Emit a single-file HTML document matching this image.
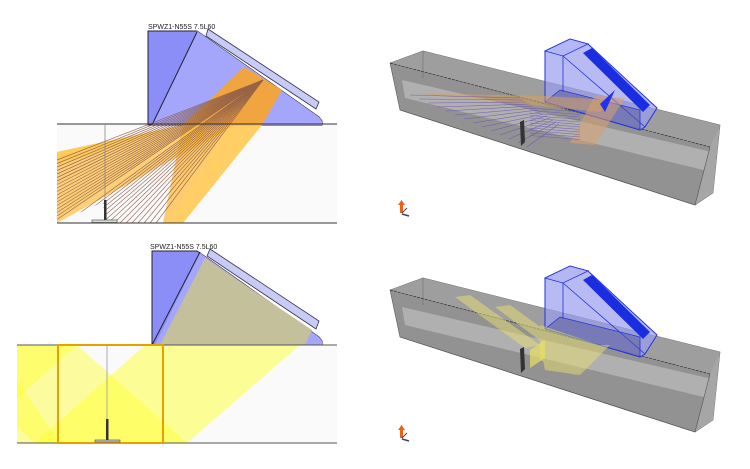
<!DOCTYPE html>
<html><head><meta charset="utf-8"><style>
html,body{margin:0;padding:0;background:#fff;}
svg{display:block;}
text{font-family:"Liberation Sans",sans-serif;}
</style></head><body>
<svg width="750" height="469" viewBox="0 0 750 469" xmlns="http://www.w3.org/2000/svg">
<!-- ===== TOP LEFT ===== -->
<rect x="57" y="124" width="280" height="99" fill="#fafafa"/>
<polygon points="148,31 197,31 203,35 319,117 322,121 322,125 148,125" fill="#8c8ef8" stroke="#223" stroke-width="1"/>
<polygon points="197,31 203,35 319,117 322,121 322,125 152,125" fill="#a4a6fb"/>
<line x1="197" y1="32" x2="152" y2="125" stroke="#223" stroke-width="1"/>
<polygon points="208,29 319,102 316,109 206,36" fill="#c8caf8" stroke="#334" stroke-width="0.8"/>
<polygon points="244,67 282,90 262,125 183,125" fill="#ffa520" opacity="0.85"/>
<polygon points="183,125 262,125 183,223 163,223" fill="#ffb830" opacity="0.7"/>
<polygon points="230,125 262,125 183,223 168,223" fill="#ffd060" opacity="0.6"/>
<polygon points="183,125 235,125 57,223 57,152" fill="#ffb830" opacity="0.65"/>
<polygon points="183,125 57,152 57,165" fill="#ffc850" opacity="0.8"/>
<g id="fan" stroke="#8a5a48" stroke-width="0.7" opacity="0.85"></g>
<polygon points="57,223 103,202 105,223" fill="#fafafa"/>
<line x1="57" y1="124" x2="337" y2="124" stroke="#333" stroke-width="1"/>
<line x1="57" y1="223" x2="337" y2="223" stroke="#333" stroke-width="1"/>
<line x1="105" y1="124" x2="105" y2="223" stroke="#888" stroke-width="0.8"/>
<rect x="104" y="200" width="2.5" height="21" fill="#333"/>
<rect x="92" y="220" width="25" height="2.5" fill="#ddd" stroke="#444" stroke-width="0.6"/>
<text x="148" y="29" font-size="7" fill="#222">SPWZ1-N55S  7.5L60</text>

<!-- ===== BOTTOM LEFT ===== -->
<rect x="17" y="345" width="320" height="98" fill="#fafafa"/>
<clipPath id="spec"><rect x="17" y="345" width="320" height="98"/></clipPath>
<g clip-path="url(#spec)" fill="#ffff30">
<polygon points="145,345 300,345 187,443 35,443" opacity="0.5"/>
<polygon points="35,443 187,443 77,345 -75,345" opacity="0.45"/>
<polygon points="-75,345 77,345 -33,443 -185,443" opacity="0.45"/>
<polygon points="17,380 60,443 17,443" opacity="0.45"/>
</g>
<polygon points="152,251 197,251 203,255 319,337 322,341 322,345 152,345" fill="#8c8ef8" stroke="#223" stroke-width="1"/>
<polygon points="200,253 203,255 319,337 322,341 322,345 155,345" fill="#a4a6fb"/>
<polygon points="205,258 312,330 305,345 160,345" fill="#c4c09c"/>
<line x1="200" y1="252" x2="152" y2="345" stroke="#223" stroke-width="1"/>
<polygon points="210,249 319,321 316,329 207,256" fill="#c8caf8" stroke="#334" stroke-width="0.8"/>
<line x1="17" y1="345" x2="337" y2="345" stroke="#555" stroke-width="1"/>
<line x1="17" y1="443" x2="337" y2="443" stroke="#555" stroke-width="1"/>
<rect x="58" y="345" width="105" height="98" fill="none" stroke="#e8a000" stroke-width="2"/>
<line x1="107" y1="345" x2="107" y2="443" stroke="#999" stroke-width="0.8"/>
<rect x="106" y="419" width="2.5" height="22" fill="#333"/>
<rect x="95" y="440" width="25" height="2" fill="#ccc" stroke="#444" stroke-width="0.6"/>
<text x="150" y="249" font-size="7" fill="#222">SPWZ1-N55S  7.5L60</text>

<!-- ===== 3D panels ===== -->
<g id="box3d">
<polygon points="390,63 423,51 720,125 713,193 695,205 400,110" fill="#929292" stroke="#555" stroke-width="0.6"/>
<polygon points="423,51 720,125 710,147 390,63" fill="#9e9e9e"/>
<polygon points="402,80 712,152 712,172 405,98" fill="#b0b0b0"/>
<polygon points="710,147 720,125 713,193 695,205" fill="#a6a6a6"/>
<line x1="390" y1="63" x2="710" y2="147" stroke="#333" stroke-width="0.7" stroke-dasharray="3,1"/>
<line x1="400" y1="110" x2="695" y2="205" stroke="#555" stroke-width="0.6"/>
<line x1="710" y1="147" x2="695" y2="205" stroke="#555" stroke-width="0.6"/>
<line x1="423" y1="51" x2="423" y2="78" stroke="#666" stroke-width="0.5"/>
</g>
<g id="probe">
<polygon points="545,51 570,39 588,44 657,108 645,127 640,130 545,102" fill="#9a9cf0" fill-opacity="0.7" stroke="#2233dd" stroke-width="1"/>
<polygon points="545,51 570,39 588,44 563,56" fill="#b4b6f6" stroke="#2233dd" stroke-width="0.8"/>
<line x1="563" y1="56" x2="563" y2="92" stroke="#2233dd" stroke-width="0.8"/>
<line x1="563" y1="56" x2="645" y2="127" stroke="#2233dd" stroke-width="0.8"/>
<polygon points="545,102 560,90 640,110 640,130" fill="#5a5c9a" fill-opacity="0.55" stroke="#2233dd" stroke-width="0.8"/>
<polygon points="583,53 592,48 650,105 643,112" fill="#1a2de0"/>
</g>
<g transform="translate(0,227)">
<use href="#box3d"/>
<use href="#probe"/>
</g>
<polygon points="412,93 545,96 612,100 600,112" fill="#d8a060" opacity="0.55"/>
<polygon points="595,95 625,98 595,145 570,143" fill="#d8a070" opacity="0.55"/>
<polygon points="600,104 615,90 605,112" fill="#2233ee"/>
<g id="fan3d" stroke="#6a50b0" stroke-width="0.6" opacity="0.8"></g>
<polygon points="520,122 524,120 525,142 521,146" fill="#333"/>
<g fill="#e8e070" opacity="0.5">
<polygon points="455,297 470,295 540,345 525,348"/>
<polygon points="495,307 510,305 565,345 550,348"/>
<polygon points="540,325 600,345 575,375 540,360"/>
<polygon points="540,345 610,345 580,375 545,370"/>
</g>
<polygon points="520,349 524,347 525,369 521,373" fill="#333"/>
<polygon points="530,350 545,340 545,358 530,368" fill="#e8e060" opacity="0.7"/>
<g id="axes"><rect x="400" y="204" width="3" height="9" fill="#f06010"/><polygon points="398,205 405,205 401.5,200" fill="#f06010"/><line x1="402" y1="214" x2="409" y2="216" stroke="#445" stroke-width="1.5"/><line x1="402" y1="213" x2="407" y2="208" stroke="#445" stroke-width="1"/></g>
<use href="#axes" transform="translate(0,225)"/>
</svg>
<script>
var ns="http://www.w3.org/2000/svg";
var g=document.getElementById("fan");
function ln(p,x1,y1,x2,y2){var l=document.createElementNS(ns,"line");l.setAttribute("x1",x1);l.setAttribute("y1",y1);l.setAttribute("x2",x2);l.setAttribute("y2",y2);p.appendChild(l);}
for(var i=0;i<18;i++){ln(g,263,80,57,160+i*3.5);}
for(var i=0;i<16;i++){ln(g,263,80,66+i*6,223);}
var f=document.getElementById("fan3d");
for(var i=0;i<14;i++){ln(f,520+i*3,98+i*2,410+i*9,95+i*4);}
for(var i=0;i<12;i++){ln(f,530,108+i*2.5,580,112+i*2.5);}
</script>
</body></html>
